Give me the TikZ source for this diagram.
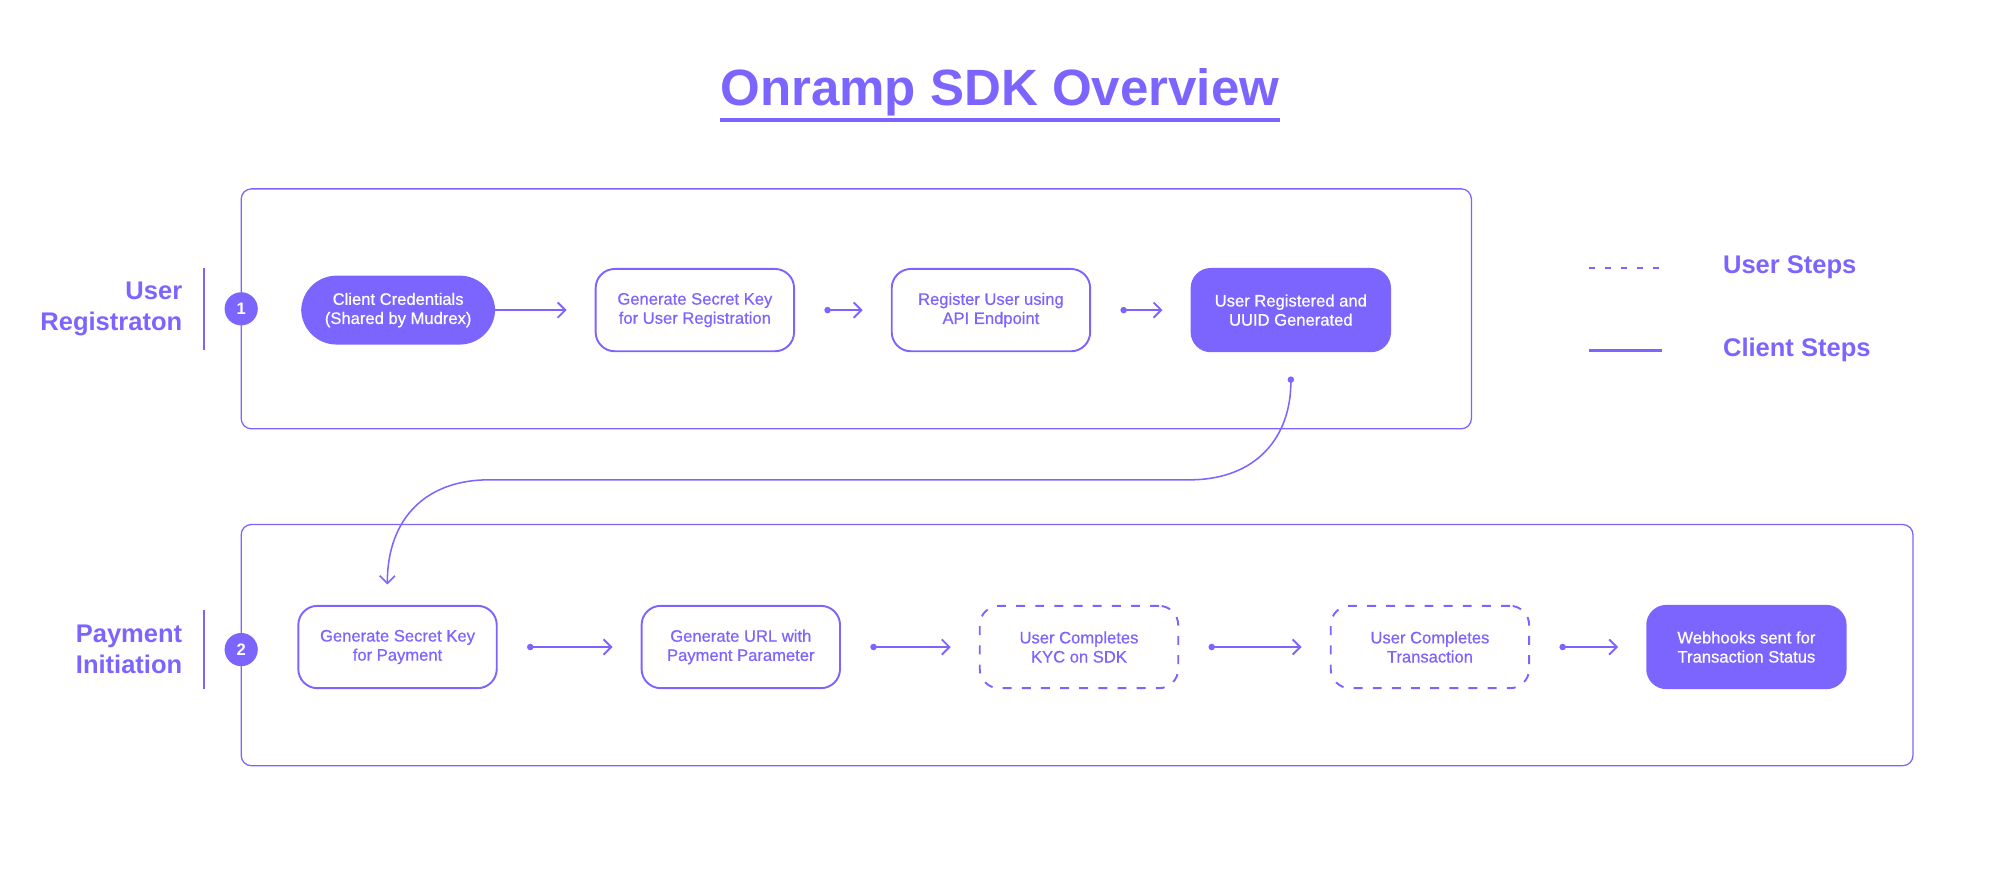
\documentclass[tikz,border=0pt]{standalone}
\usepackage{fontspec}
\setmainfont{Liberation Sans}
\newfontfamily\medfont{Liberation Sans}[FakeBold=0.6]
\usetikzlibrary{arrows.meta, positioning, calc}
\definecolor{onramp}{RGB}{124,101,255}

\begin{document}
\begin{tikzpicture}[x=1pt, y=-1pt, node distance=0pt, every node/.style={inner sep=0pt}]
    \tikzstyle{clientstep} = [rectangle, rounded corners=15pt, minimum width=155.5pt, minimum height=64.5pt, align=center, draw=onramp, line width=1.5pt, text=onramp, font=\medfont\fontsize{13}{15}\selectfont]
    \tikzstyle{userstep} = [clientstep, dash pattern=on 7pt off 8pt]
    \tikzstyle{donestep} = [clientstep, fill=onramp, text=white]
    \tikzstyle{phasebox} = [draw=onramp, line width=1pt, rounded corners=8pt]
    \tikzstyle{badge} = [circle, fill=onramp, minimum size=26pt, text=white, font=\fontsize{13}{15}\selectfont\bfseries]
    \tikzstyle{phaselabel} = [align=right, anchor=east, text=onramp, font=\fontsize{20}{24}\selectfont\bfseries]
    \tikzstyle{legendtext} = [anchor=base west, text=onramp, font=\fontsize{20}{24}\selectfont\bfseries]
    \tikzstyle{arrow} = [line width=1.5pt, draw=onramp, {Circle[length=5pt]}-{Straight Barb[length=6pt, width=12pt]}, shorten <=23pt, shorten >=22pt]

    \useasboundingbox (0,0) rectangle (1568,681.7);

    % title
    \node (title) [anchor=base, text=onramp, font=\fontsize{40}{48}\selectfont\bfseries] at (783.5,83) {Onramp SDK Overview};
    \draw [onramp, line width=3pt] ($(title.base west)+(0,11)$) -- ($(title.base east)+(0,11)$);

    % phase frames
    \draw [phasebox] (189,148) rectangle (1153,336);
    \draw [phasebox] (189,411) rectangle (1499,600);

    % phase labels
    \node (reglabel) [phaselabel] at (143,242) {User\\Registraton};
    \node (paylabel) [phaselabel] at (143,509) {Payment\\Initiation};
    \draw [onramp, line width=2pt] (160,210) -- (160,274);
    \draw [onramp, line width=2pt] (160,478) -- (160,540);
    \node (one) [badge] at (189,242) {1};
    \node (two) [badge] at (189,509) {2};

    % user registration
    \node (cred) [donestep, rounded corners=27pt, minimum width=150.5pt, minimum height=52.5pt] at (312,243) {Client Credentials\\(Shared by Mudrex)};
    \node (genkey) [clientstep, right=78pt of cred] {Generate Secret Key\\for User Registration};
    \node (register) [clientstep, right=75pt of genkey] {Register User using\\API Endpoint};
    \node (uuid) [donestep, right=78pt of register] {User Registered and\\UUID Generated};

    % payment initiation
    \node (paykey) [clientstep] at (311.5,507) {Generate Secret Key\\for Payment};
    \node (url) [clientstep, right=112pt of paykey] {Generate URL with\\Payment Parameter};
    \node (kyc) [userstep, right=108pt of url] {User Completes\\KYC on SDK};
    \node (txn) [userstep, right=118pt of kyc] {User Completes\\Transaction};
    \node (webhook) [donestep, right=91pt of txn] {Webhooks sent for\\Transaction Status};

    \draw [arrow, -{Straight Barb[length=6pt, width=12pt]}, shorten <=0pt] (cred) -- (genkey);
    \draw [arrow] (genkey) -- (register);
    \draw [arrow] (register) -- (uuid);
    \draw [arrow] (paykey) -- (url);
    \draw [arrow] (url) -- (kyc);
    \draw [arrow] (kyc) -- (txn);
    \draw [arrow] (txn) -- (webhook);

    % hand over from registration to payment
    \coordinate (uuidout) at ($(uuid.south)+(0,19)$);
    \coordinate (payin) at ($(paykey.north)+(-8,-16)$);
    \draw [onramp, line width=1.2pt, {Circle[length=5pt]}-{Straight Barb[length=6pt, width=12pt]}]
        (uuidout) .. controls (1011.5,342) and (985,376) .. (932,376) -- (383,376) .. controls (335,376) and (303.5,405) .. (payin);

    % legend
    \draw [onramp, line width=2pt, dash pattern=on 5pt off 7.5pt] (1245,210) -- (1300,210);
    \draw [onramp, line width=2pt] (1245,274.5) -- (1302,274.5);
    \node (usersteps) [legendtext] at (1350,214.5) {User Steps};
    \node (clientsteps) [legendtext] at (1350,279.5) {Client Steps};
\end{tikzpicture}
\end{document}
